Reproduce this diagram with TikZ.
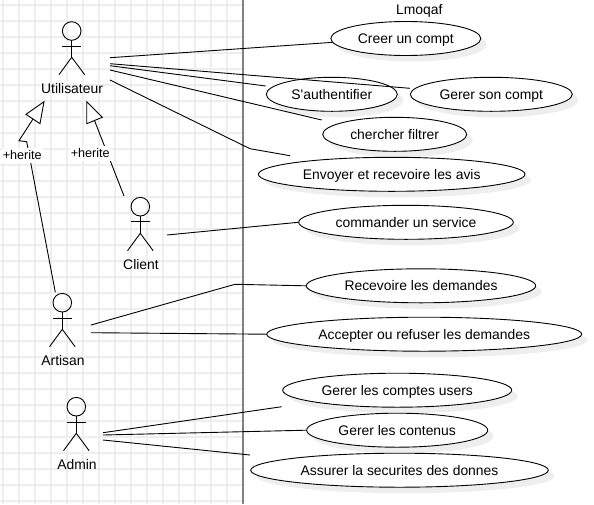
\documentclass[tikz,border=0pt]{standalone}
\usepackage{fontspec}
\setmainfont{Liberation Sans}[Ligatures=TeXOff]
\usetikzlibrary{shapes.geometric, shadows}
\definecolor{gridgray}{RGB}{238,238,238}
\definecolor{shadegray}{RGB}{238,238,238}
\definecolor{lifegray}{RGB}{128,128,128}
\tikzset{
    usecase/.style={draw=black,line width=0.9pt,fill=white,shape=ellipse,inner sep=0pt,
        minimum height=34pt,font=\fontsize{13.9}{16}\selectfont,text height=12pt,text depth=2pt,
        drop shadow={shadow xshift=6pt,shadow yshift=-6pt,fill=shadegray,opacity=1}},
    actorname/.style={font=\fontsize{13.9}{16}\selectfont,text height=12pt,text depth=2pt,inner sep=1pt},
    herite/.style={font=\fontsize{12.6}{15}\selectfont,text height=11pt,text depth=2pt,fill=white,inner sep=1pt},
    stick/.style={draw=black,line width=0.9pt},
    conn/.style={draw=black,line width=0.9pt},
    gentip/.style={draw=black,fill=white,line width=0.9pt,line join=miter}
}

\begin{document}
\begin{tikzpicture}[x=1pt,y=-1pt]
    \useasboundingbox (0,0) rectangle (594,504);
    \fill[white] (0,0) rectangle (594,504);

    % Griglia
    \foreach \gx in {3,19,...,227}
        \draw[gridgray,line width=1.6pt] (\gx,0) -- (\gx,504);
    \foreach \gy in {5,21,...,501}
        \draw[gridgray,line width=1.6pt] (0,\gy) -- (243,\gy);

    % Linea centrale
    \draw[lifegray,line width=1.6pt] (243,0) -- (243,504);
    \node[actorname] (title) at (419.3,9.3) {Lmoqaf};

    % Casi d'uso
    \node[usecase,minimum width=150pt] (creer) at (405.8,38.5) {Creer un compt};
    \node[usecase,minimum width=131pt] (auth) at (331.8,94.3) {S'authentifier};
    \node[usecase,minimum width=162pt] (gerercompt) at (491.3,94.3) {Gerer son compt};
    \node[usecase,minimum width=144pt] (chercher) at (394.7,134.3) {chercher filtrer};
    \node[usecase,minimum width=266.6pt] (avis) at (391.7,174.3) {Envoyer et recevoire les avis};
    \node[usecase,minimum width=214.6pt] (commander) at (406,222.3) {commander un service};
    \node[usecase,minimum width=229.4pt] (recevoir) at (421,285.8) {Recevoire les demandes};
    \node[usecase,minimum width=315pt] (accepter) at (424.2,334.2) {Accepter ou refuser les demandes};
    \node[usecase,minimum width=229pt] (comptes) at (397.2,390.2) {Gerer les comptes users};
    \node[usecase,minimum width=181pt] (contenus) at (397.2,430.2) {Gerer les contenus};
    \node[usecase,minimum width=297.6pt] (securite) at (399.5,470.2) {Assurer la securites des donnes};

    % Utilisateur
    \draw[stick] (71.7,31) circle (9.3);
    \draw[stick] (71.7,40.3) -- (71.7,57.3);
    \draw[stick] (62.3,46.3) -- (81,46.3);
    \draw[stick] (59,74.7) -- (71.7,57.3) -- (84.7,74.7);
    \node[actorname] (utilisateur) at (72,88.7) {Utilisateur};

    % Client
    \draw[stick] (140.3,206.7) circle (9.3);
    \draw[stick] (140.3,216) -- (140.3,233.3);
    \draw[stick] (131,221.7) -- (149.7,221.7);
    \draw[stick] (127.5,250.7) -- (140.3,233.3) -- (153.1,250.7);
    \node[actorname] (client) at (141,264.3) {Client};

    % Artisan
    \draw[stick] (62.3,302.7) circle (9.3);
    \draw[stick] (62.3,312) -- (62.3,329.3);
    \draw[stick] (53,318) -- (71.7,318);
    \draw[stick] (49.5,346.7) -- (62.3,329.3) -- (75.1,346.7);
    \node[actorname] (artisan) at (63,360.7) {Artisan};

    % Admin
    \draw[stick] (76.3,406.7) circle (9.3);
    \draw[stick] (76.3,416) -- (76.3,433.3);
    \draw[stick] (67,422.3) -- (85.7,422.3);
    \draw[stick] (63.5,450.7) -- (76.3,433.3) -- (89.1,450.7);
    \node[actorname] (admin) at (77,464.3) {Admin};

    % Estremi liberi
    \coordinate (uA) at (110,57.7);
    \coordinate (uB) at (110,63.7);
    \coordinate (uC) at (110,65.7);
    \coordinate (uD) at (110,70);
    \coordinate (uE) at (110,80);
    \coordinate (authEnd) at (265.7,86);
    \coordinate (gererEnd) at (410,88.3);
    \coordinate (chercherEnd) at (321.7,120);
    \coordinate (avisBend) at (250,148.7);
    \coordinate (avisEnd) at (290,155.7);
    \coordinate (clA) at (167,235);
    \coordinate (arA) at (91,325);
    \coordinate (arB) at (91,332.7);
    \coordinate (recevoirBend) at (235,284.3);
    \coordinate (adA) at (103,432.7);
    \coordinate (adB) at (103,435);
    \coordinate (adC) at (103,440);
    \coordinate (comptesEnd) at (281.7,406.7);
    \coordinate (securiteEnd) at (250,455);

    % Collegamenti
    \draw[conn] (uA) -- (creer.183);
    \draw[conn] (uB) -- (gererEnd);
    \draw[conn] (uC) -- (authEnd);
    \draw[conn] (uD) -- (chercherEnd);
    \draw[conn] (uE) -- (avisBend) -- (avisEnd);
    \draw[conn] (clA) -- (commander.west);
    \draw[conn] (arA) -- (recevoirBend) -- (recevoir.west);
    \draw[conn] (arB) -- (accepter.west);
    \draw[conn] (adA) -- (comptesEnd);
    \draw[conn] (adB) -- (contenus.west);
    \draw[conn] (adC) -- (securiteEnd);

    % Ereditarieta
    \coordinate (arTop) at (55.3,292.3);
    \coordinate (arKneeA) at (26.7,141.7);
    \coordinate (arKneeB) at (19,140.7);
    \coordinate (clTop) at (124,196);
    \draw[conn] (arTop) -- (arKneeA) -- (arKneeB) -- (33,119);
    \draw[gentip] (44,101.7) -- (26,114.3) -- (40,123.7) -- cycle;
    \draw[conn] (clTop) -- (94.5,120.5);
    \draw[gentip] (86.7,101.7) -- (86.7,123.7) -- (102.3,117.3) -- cycle;
    \node[herite] (heriteA) at (22.2,155) {+herite};
    \node[herite] (heriteB) at (90.3,153.3) {+herite};
\end{tikzpicture}
\end{document}
